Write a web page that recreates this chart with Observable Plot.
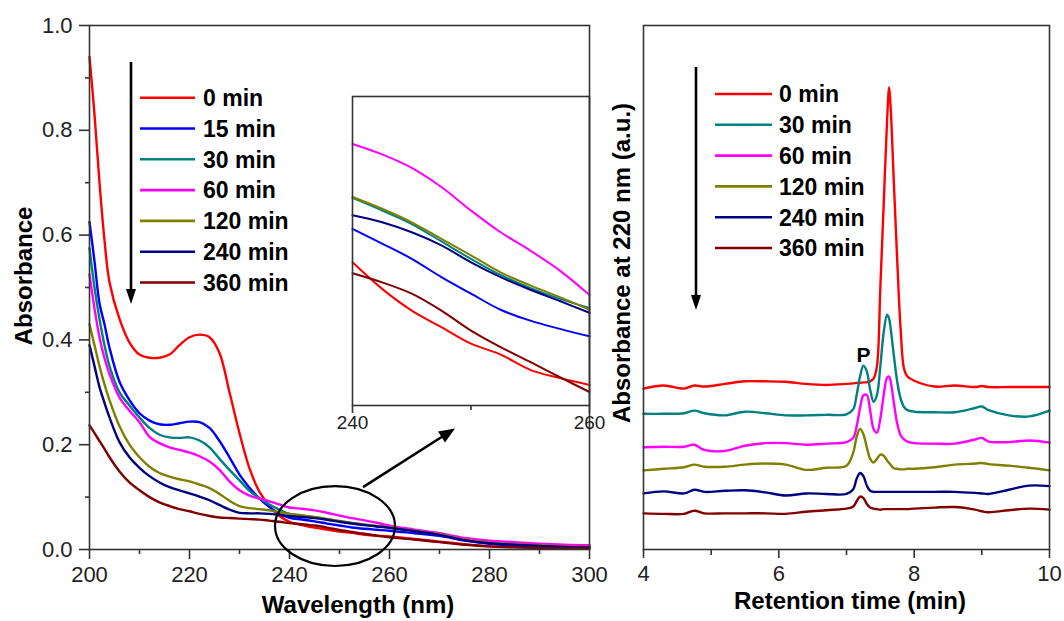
<!DOCTYPE html>
<html><head><meta charset="utf-8">
<script src="https://cdn.jsdelivr.net/npm/d3@7"></script>
<script src="https://cdn.jsdelivr.net/npm/@observablehq/plot@0.6"></script>
<style>
html,body{margin:0;padding:0;background:#fff;}
#root{position:relative;width:1064px;height:621px;overflow:hidden;background:#fff;font-family:"Liberation Sans",Arial,sans-serif;}
#root svg{position:absolute;}
</style></head><body><div id="root"></div>
<script>
// ---------- UV-Vis spectra (left panel) ----------
const uvLabels = ["0 min","15 min","30 min","60 min","120 min","240 min","360 min"];
const uvColors = ["#ff0000","#0000ff","#008080","#ff00ff","#808000","#000080","#800000"];
const wavelengths = [200,201,202,203,204,206,208,210,212,214,216,218,220,222,224,226,228,230,232,234,236,238,240,242.5,245,247.5,250,252.5,255,257.5,260,265,270,275,280,285,290,295,300];
const uv0   = [0.94,0.83,0.70,0.59,0.51,0.44,0.395,0.372,0.366,0.366,0.372,0.39,0.405,0.41,0.405,0.375,0.30,0.222,0.155,0.11,0.083,0.064,0.0529,0.0468,0.0418,0.0380,0.0342,0.0317,0.0282,0.0263,0.0247,0.020,0.015,0.010,0.006,0.005,0.004,0.003,0.002];
const uv15  = [0.625,0.55,0.47,0.43,0.385,0.32,0.285,0.26,0.246,0.239,0.238,0.241,0.244,0.243,0.232,0.207,0.176,0.143,0.118,0.097,0.081,0.068,0.0606,0.0572,0.0537,0.0495,0.0457,0.0420,0.0395,0.0376,0.0359,0.031,0.026,0.017,0.011,0.008,0.006,0.005,0.004];
const uv30  = [0.575,0.50,0.44,0.39,0.35,0.30,0.275,0.252,0.232,0.219,0.214,0.213,0.214,0.208,0.195,0.173,0.152,0.132,0.112,0.098,0.086,0.076,0.0677,0.0648,0.0617,0.0577,0.0537,0.0500,0.0470,0.0445,0.0424,0.036,0.029,0.019,0.013,0.010,0.008,0.006,0.005];
const uv60  = [0.525,0.46,0.405,0.365,0.335,0.29,0.265,0.243,0.215,0.203,0.195,0.19,0.185,0.178,0.168,0.152,0.13,0.113,0.103,0.097,0.092,0.086,0.0801,0.0777,0.0746,0.0702,0.0648,0.0598,0.0556,0.0510,0.0454,0.038,0.031,0.022,0.017,0.014,0.011,0.009,0.008];
const uv120 = [0.43,0.39,0.35,0.315,0.285,0.235,0.2,0.176,0.158,0.146,0.139,0.134,0.13,0.124,0.117,0.106,0.093,0.083,0.079,0.077,0.075,0.071,0.0679,0.0652,0.0621,0.0583,0.0545,0.0506,0.0476,0.0449,0.0420,0.036,0.029,0.019,0.013,0.010,0.008,0.006,0.005];
const uv240 = [0.39,0.35,0.31,0.28,0.252,0.205,0.176,0.156,0.14,0.128,0.119,0.113,0.107,0.101,0.094,0.085,0.076,0.07,0.069,0.069,0.068,0.066,0.0637,0.0621,0.0598,0.0568,0.0529,0.0495,0.0466,0.0440,0.0413,0.035,0.028,0.018,0.012,0.009,0.007,0.005,0.004];
const uv360 = [0.237,0.222,0.207,0.192,0.176,0.149,0.128,0.113,0.1,0.09,0.083,0.077,0.073,0.068,0.064,0.061,0.06,0.059,0.058,0.057,0.055,0.053,0.0504,0.0483,0.0457,0.0418,0.0372,0.0334,0.0300,0.0265,0.0231,0.019,0.014,0.009,0.006,0.004,0.003,0.002,0.002];
const uvValues = [uv0,uv15,uv30,uv60,uv120,uv240,uv360];
const uvXTicks = [200,220,240,260,280,300];
const uvXMinor = [210,230,250,270,290];
const uvYTicks = [0,0.2,0.4,0.6,0.8,1.0];
const uvYMinor = [0.1,0.3,0.5,0.7,0.9];
const insetDomainX = [240,260];
const insetDomainY = [0.02,0.091];
const insetTicks = [240,260];
const insetMinor = [250];
// zoom annotation (data units of left panel)
const zoomEllipse = {cx:249.2, cy:0.0438, rx:12, ry:0.0762};
const zoomArrow = {x1:254.8, y1:0.118, x2:273.2, y2:0.230};

// ---------- HPLC chromatograms (right panel) ----------
const hpLabels = ["0 min","30 min","60 min","120 min","240 min","360 min"];
const hpColors = ["#ff0000","#008080","#ff00ff","#808000","#000080","#800000"];
const times = [4.0,4.3,4.6,4.75,4.9,5.2,5.5,5.8,6.1,6.4,6.7,7.0,7.1,7.15,7.2,7.25,7.3,7.35,7.4,7.45,7.5,7.55,7.6,7.63,7.65,7.7,7.75,7.8,7.85,7.9,8.0,8.3,8.6,8.9,9.0,9.1,9.4,9.7,10.0];
const hp0   = [30.7,31.3,30.7,31.3,31.1,31.6,32.1,32.1,32.0,31.6,31.4,31.6,31.7,31.8,31.8,31.9,31.9,32.1,32.6,35,50,66,82,88.2,85,70,55,42,34.5,33.0,32.2,31.1,31.3,31.0,31.2,31.0,31.0,31.0,31.0];
const hp30  = [25.9,25.9,26.0,26.5,26.0,25.6,26.3,26.0,25.6,25.6,25.7,25.8,26.8,29.5,33,35.1,34,30.5,28.2,29.5,35,41.5,44.8,44,42.5,37,32,28.8,27.2,26.6,26.3,26.2,26.2,27.0,27.3,26.6,25.6,25.4,26.5];
const hp60  = [19.5,19.6,19.6,20.0,19.0,18.8,19.8,20.3,20.3,20.0,20.2,20.5,21.3,23.5,27,29.4,29.5,26.5,23,22.3,25,29.5,32.8,33,32.3,28,24,21.8,21,20.6,20.3,20.2,20.2,21.0,21.3,20.6,20.5,20.8,20.4];
const hp120 = [15.1,15.4,15.7,16.2,15.8,15.8,16.2,16.4,16.2,15.2,15.6,16.0,18.5,21.5,23.0,22.0,19.5,17.3,16.6,17.3,18.1,17.9,17.0,16.5,16.2,15.5,15.4,15.3,15.3,15.4,15.4,15.7,16.2,16.4,16.5,16.3,16.0,15.6,15.1];
const hp240 = [10.7,11.1,10.7,11.4,11.0,11.2,11.3,10.9,10.3,10.7,10.6,10.6,11.5,13.5,14.6,14.0,12.2,11.2,11.0,11.0,11.0,11.0,11.0,11.0,11.0,11.0,11.0,11.0,11.0,11.0,11.0,11.0,11.0,10.8,10.7,10.6,11.4,12.2,12.1];
const hp360 = [6.9,6.8,6.8,7.4,6.9,6.9,6.9,6.9,6.8,7.2,7.5,7.8,8.2,9.2,10.1,9.8,8.7,8.0,7.8,7.7,7.6,7.7,7.7,7.7,7.7,7.7,7.7,7.7,7.7,7.7,7.8,8.0,8.1,7.6,7.3,7.1,7.5,7.8,7.6];
const hpValues = [hp0,hp30,hp60,hp120,hp240,hp360];
const hpXTicks = [4,6,8,10];
const hpXMinor = [5,7,9];
const peakLabel = [{t:7.25, v:37.0, text:"P"}];

// ---------- build tables ----------
const uvRows = uvLabels.flatMap((s,k)=>wavelengths.map((w,i)=>({wl:w, a:uvValues[k][i], series:s})));
const insetRows = uvRows.filter(d => d.wl >= insetDomainX[0] && d.wl <= insetDomainX[1]);
const hpRows = hpLabels.flatMap((s,k)=>times.map((t,i)=>({t, v:hpValues[k][i], series:s})));

const FONT = '"Liberation Sans", Arial, Helvetica, sans-serif';
const AX = "#333";
const baseStyle = {fontFamily: FONT, fontSize: "22px", color: "#222", background: "transparent", overflow: "visible"};
const root = document.getElementById("root");

function zoomMark(index, scales) {
  const x = scales.x, y = scales.y;
  const g = d3.create("svg:g");
  g.append("ellipse")
    .attr("cx", x(zoomEllipse.cx)).attr("cy", y(zoomEllipse.cy))
    .attr("rx", Math.abs(x(zoomEllipse.cx + zoomEllipse.rx) - x(zoomEllipse.cx)))
    .attr("ry", Math.abs(y(zoomEllipse.cy + zoomEllipse.ry) - y(zoomEllipse.cy)))
    .attr("fill", "none").attr("stroke", "#000").attr("stroke-width", 2.2);
  const x1 = x(zoomArrow.x1), y1 = y(zoomArrow.y1), x2 = x(zoomArrow.x2), y2 = y(zoomArrow.y2);
  const ang = Math.atan2(y2 - y1, x2 - x1), L = 16, W = 6.5;
  const bx = x2 - L*Math.cos(ang), by = y2 - L*Math.sin(ang);
  g.append("line").attr("x1", x1).attr("y1", y1).attr("x2", bx + 2*Math.cos(ang)).attr("y2", by + 2*Math.sin(ang))
    .attr("stroke", "#000").attr("stroke-width", 2.6);
  g.append("path").attr("d", `M${x2},${y2}L${bx + W*Math.sin(ang)},${by - W*Math.cos(ang)}L${bx - W*Math.sin(ang)},${by + W*Math.cos(ang)}Z`).attr("fill", "#000");
  return g.node();
}

// ---------- left main plot ----------
const left = Plot.plot({
  width: 600, height: 621,
  marginLeft: 89, marginRight: 11, marginTop: 25, marginBottom: 72,
  style: baseStyle,
  x: {domain: [200,300], axis: null},
  y: {domain: [0,1], axis: null},
  color: {domain: uvLabels, range: uvColors},
  marks: [
    Plot.line(uvRows, {x:"wl", y:"a", z:"series", stroke:"series", curve:"catmull-rom", strokeWidth:2.4}),
    Plot.frame({stroke: AX, strokeWidth: 1.6}),
    Plot.axisX(uvXTicks, {tickSize: 10, tickPadding: 7, fontSize: 22, stroke: AX, strokeWidth: 1.6, label: null}),
    Plot.axisX(uvXMinor, {tickSize: 5, tickFormat: () => "", stroke: AX, strokeWidth: 1.6, label: null}),
    Plot.axisY(uvYTicks, {tickSize: 10, tickPadding: 7, fontSize: 22, tickFormat: d3.format(".1f"), stroke: AX, strokeWidth: 1.6, label: null}),
    Plot.axisY(uvYMinor, {tickSize: 4, tickFormat: () => "", stroke: AX, strokeWidth: 1.6, label: null}),
    zoomMark
  ]
});
left.style.left = "0px"; left.style.top = "0px";
root.appendChild(left);

// ---------- right plot ----------
const right = Plot.plot({
  width: 464, height: 621,
  marginLeft: 43, marginRight: 15, marginTop: 25, marginBottom: 72,
  style: baseStyle,
  x: {domain: [4,10], axis: null},
  y: {domain: [0,100], axis: null},
  color: {domain: hpLabels, range: hpColors},
  marks: [
    Plot.line(hpRows, {x:"t", y:"v", z:"series", stroke:"series", curve:"catmull-rom", strokeWidth:2.4}),
    Plot.frame({stroke: AX, strokeWidth: 1.6}),
    Plot.axisX(hpXTicks, {tickSize: 9, tickPadding: 7, fontSize: 22, stroke: AX, strokeWidth: 1.6, label: null}),
    Plot.axisX(hpXMinor, {tickSize: 6, tickFormat: () => "", stroke: AX, strokeWidth: 1.6, label: null}),
    Plot.text(peakLabel, {x:"t", y:"v", text:"text", fontSize: 21, fontWeight: "bold", fill: "#000"})
  ]
});
right.style.left = "600px"; right.style.top = "0px";
root.appendChild(right);

// ---------- inset ----------
const inset = Plot.plot({
  width: 277, height: 345,
  marginLeft: 20, marginRight: 20, marginTop: 2, marginBottom: 34,
  style: baseStyle,
  x: {domain: insetDomainX, axis: null},
  y: {domain: insetDomainY, axis: null},
  color: {domain: uvLabels, range: uvColors},
  marks: [
    Plot.line(insetRows, {x:"wl", y:"a", z:"series", stroke:"series", curve:"catmull-rom", strokeWidth:2}),
    Plot.frame({stroke: AX, strokeWidth: 1.6}),
    Plot.axisX(insetTicks, {tickSize: 8, tickPadding: 2, fontSize: 19, stroke: AX, strokeWidth: 1.6, label: null}),
    Plot.axisX(insetMinor, {tickSize: 5, tickFormat: () => "", stroke: AX, strokeWidth: 1.6, label: null})
  ]
});
inset.style.left = "332px"; inset.style.top = "94px";
root.appendChild(inset);

// ---------- overlay: titles, legends, trend arrows ----------
const ov = d3.select(root).append("svg")
  .attr("width", 1064).attr("height", 621)
  .style("left", "0px").style("top", "0px").style("pointer-events", "none")
  .style("font-family", FONT).style("overflow", "visible");

function title(x, y, rot, txt) {
  ov.append("text").attr("transform", `translate(${x},${y}) rotate(${rot})`)
    .attr("text-anchor", "middle").attr("font-size", 24).attr("font-weight", "bold").attr("fill", "#000").text(txt);
}
title(32, 276, -90, "Absorbance");
title(358, 613, 0, "Wavelength (nm)");
title(630, 263, -90, "Absorbance at 220 nm (a.u.)");
title(850, 609, 0, "Retention time (min)");

function legend(labels, colors, x0, x1, tx, y0, dy) {
  labels.forEach((lab, i) => {
    const y = y0 + i*dy;
    ov.append("line").attr("x1", x0).attr("x2", x1).attr("y1", y).attr("y2", y)
      .attr("stroke", colors[i]).attr("stroke-width", 2.6);
    ov.append("text").attr("x", tx).attr("y", y + 8.3).attr("font-size", 23).attr("font-weight", "bold")
      .attr("fill", "#000").text(lab);
  });
}
legend(uvLabels, uvColors, 140, 195, 203, 97.7, 30.8);
legend(hpLabels, hpColors, 715, 772, 779, 94, 30.8);

function downArrow(x, yTop, yTip) {
  ov.append("line").attr("x1", x).attr("x2", x).attr("y1", yTop).attr("y2", yTip - 12)
    .attr("stroke", "#000").attr("stroke-width", 2.6);
  ov.append("path").attr("d", `M${x},${yTip}L${x-5},${yTip-15}L${x+5},${yTip-15}Z`).attr("fill", "#000");
}
downArrow(131, 62, 304);
downArrow(696, 67, 310);
</script>
</body></html>
